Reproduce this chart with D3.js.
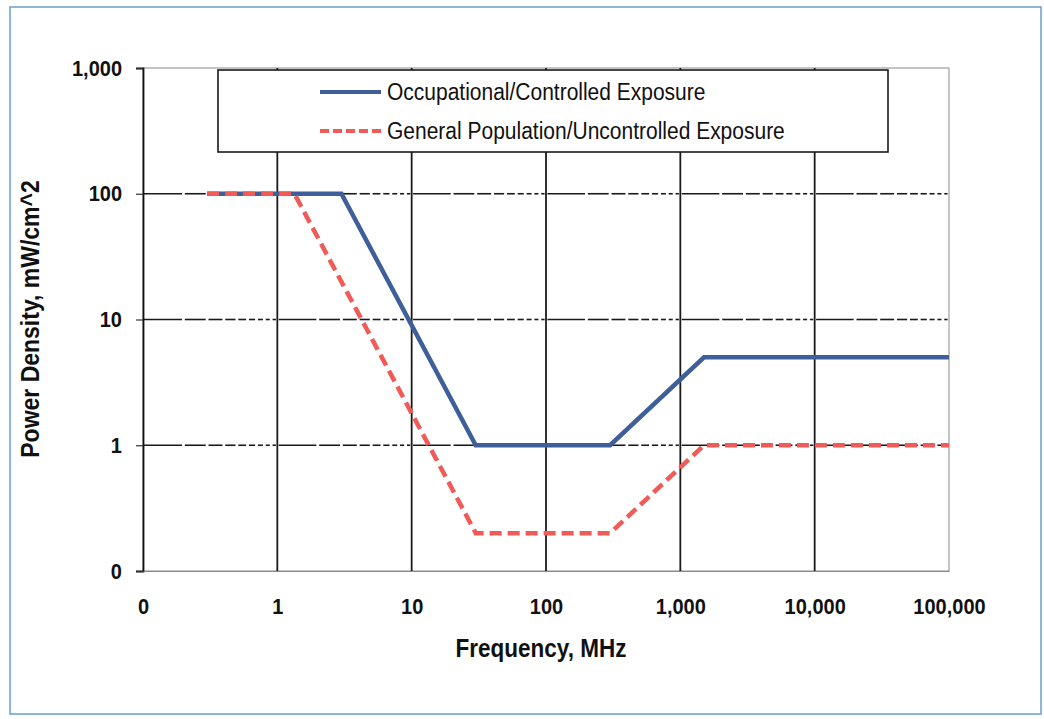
<!DOCTYPE html>
<html>
<head>
<meta charset="utf-8">
<script src="https://cdn.jsdelivr.net/npm/d3@7"></script>
<style>
  body { margin: 0; background: #fff; }
  svg { display: block; font-family: "Liberation Sans", Arial, sans-serif; }
</style>
</head>
<body>
<div id="chart"></div>
<script>
// exposure limits, frequency in MHz, power density in mW/cm^2
var occFreq = [0.3, 3, 30, 300, 1500, 100000];
var occPower = [100, 100, 1, 1, 5, 5];
var genFreq = [0.3, 1.34, 30, 300, 1500, 100000];
var genPower = [100, 100, 0.2, 0.2, 1, 1];

var xTicks = [0.1, 1, 10, 100, 1000, 10000, 100000];
var xTickLabels = ["0", "1", "10", "100", "1,000", "10,000", "100,000"];
var yTicks = [0.1, 1, 10, 100, 1000];
var yTickLabels = ["0", "1", "10", "100", "1,000"];

var seriesNames = ["Occupational/Controlled Exposure", "General Population/Uncontrolled Exposure"];

var W = 1044, H = 719;
var margin = { top: 68, right: 95, bottom: 148, left: 143 },
    width = W - margin.left - margin.right,
    height = H - margin.top - margin.bottom;

// the scanned text is a bit taller than normal Arial
var STRETCH = 1.13;
function stretch(sel, cy) {
    sel.attr("transform", "translate(0," + cy + ") scale(1," + STRETCH + ") translate(0," + (-cy) + ")");
}

var svg = d3.select("#chart")
    .append("svg")
    .attr("width", W)
    .attr("height", H);

// outer frame
svg.append("rect")
    .attr("x", 10).attr("y", 7)
    .attr("width", 1031).attr("height", 707)
    .attr("fill", "none")
    .attr("stroke", "#6a9fcf")
    .attr("stroke-width", 1.5);

var g = svg.append("g")
    .attr("transform", "translate(" + margin.left + "," + margin.top + ")");

var x = d3.scaleLog().domain([0.1, 100000]).range([0, width]);
var y = d3.scaleLog().domain([0.1, 1000]).range([height, 0]);

// plot border
g.append("rect")
    .attr("width", width).attr("height", height)
    .attr("fill", "none")
    .attr("stroke", "#8a8a8a")
    .attr("stroke-width", 1);

// horizontal grid lines, broken at the minor log positions
var segs = [];
yTicks.slice(1, -1).forEach(function (v) {
    for (var d = -1; d < 5; d++) {
        for (var m = 1; m < 10; m++) {
            segs.push({ y: v, x0: m * Math.pow(10, d), x1: (m + 1) * Math.pow(10, d) });
        }
    }
});
g.append("g").selectAll("line")
    .data(segs)
    .enter()
    .append("line")
    .attr("x1", function (d) { return x(d.x0) + (d.x0 === 0.1 ? 0 : 1.4); })
    .attr("x2", function (d) { return x(d.x1) - 1.4; })
    .attr("y1", function (d) { return y(d.y); })
    .attr("y2", function (d) { return y(d.y); })
    .attr("stroke", "#1a1a1a")
    .attr("stroke-width", 1.6);

// vertical grid lines
g.append("g").selectAll("line")
    .data(xTicks.slice(1, -1))
    .enter()
    .append("line")
    .attr("x1", function (d) { return x(d); })
    .attr("x2", function (d) { return x(d); })
    .attr("y1", 0)
    .attr("y2", height)
    .attr("stroke", "#1a1a1a")
    .attr("stroke-width", 1.8);

// Y axis
var yAxis = g.append("g")
    .call(d3.axisLeft(y).tickValues(yTicks).tickSize(7).tickPadding(14)
        .tickFormat(function (d, i) { return yTickLabels[i]; }));
yAxis.select(".domain").attr("stroke", "#111").attr("stroke-width", 1.8);
yAxis.selectAll(".tick line").attr("stroke", "#333").attr("stroke-width", 1.2);
yAxis.selectAll("text")
    .attr("font-size", 20).attr("font-weight", "bold").attr("fill", "#111")
    .call(stretch, 0);

// X axis
var xAxis = g.append("g")
    .attr("transform", "translate(0," + height + ")")
    .call(d3.axisBottom(x).tickValues(xTicks).tickSize(0).tickPadding(28)
        .tickFormat(function (d, i) { return xTickLabels[i]; }));
xAxis.select(".domain").attr("stroke", "#8a8a8a").attr("stroke-width", 1);
xAxis.selectAll("text")
    .attr("font-size", 20).attr("font-weight", "bold").attr("fill", "#111")
    .call(stretch, 35);

// axis titles
svg.append("text")
    .attr("x", margin.left + x(100) - 5)
    .attr("y", 656)
    .attr("text-anchor", "middle")
    .attr("font-size", 22.5).attr("font-weight", "bold").attr("fill", "#111")
    .text("Frequency, MHz")
    .call(stretch, 648);

svg.append("text")
    .attr("transform", "translate(40,319) rotate(-90) scale(1," + STRETCH + ")")
    .attr("text-anchor", "middle")
    .attr("font-size", 23).attr("font-weight", "bold").attr("fill", "#111")
    .attr("y", -1)
    .text("Power Density, mW/cm^2");

// lines
var occData = occFreq.map(function (f, i) { return { f: f, p: occPower[i] }; });
var genData = genFreq.map(function (f, i) { return { f: f, p: genPower[i] }; });

var line = d3.line()
    .x(function (d) { return x(d.f); })
    .y(function (d) { return y(d.p); });

g.append("path")
    .datum(occData)
    .attr("fill", "none")
    .attr("stroke", "#3e5f99")
    .attr("stroke-width", 4.5)
    .attr("d", line);

g.append("path")
    .datum(genData)
    .attr("fill", "none")
    .attr("stroke", "#f05a57")
    .attr("stroke-width", 4.5)
    .attr("stroke-dasharray", "12,6")
    .attr("d", line);

// legend
var legend = svg.append("g").attr("transform", "translate(218,70)");
legend.append("rect")
    .attr("width", 670).attr("height", 82)
    .attr("fill", "#fff")
    .attr("stroke", "#1a1a1a")
    .attr("stroke-width", 1.6);

var legendStyles = [
    { color: "#3e5f99", dash: null, w: 4 },
    { color: "#f05a57", dash: "9,4", w: 4 }
];
seriesNames.forEach(function (name, i) {
    var ly = 22 + i * 39;
    legend.append("line")
        .attr("x1", 102).attr("x2", 163)
        .attr("y1", ly).attr("y2", ly)
        .attr("stroke", legendStyles[i].color)
        .attr("stroke-width", legendStyles[i].w)
        .attr("stroke-dasharray", legendStyles[i].dash);
    legend.append("text")
        .attr("x", 169).attr("y", ly + 7)
        .attr("font-size", 21).attr("fill", "#111")
        .text(name)
        .call(stretch, ly);
});
</script>
</body>
</html>
